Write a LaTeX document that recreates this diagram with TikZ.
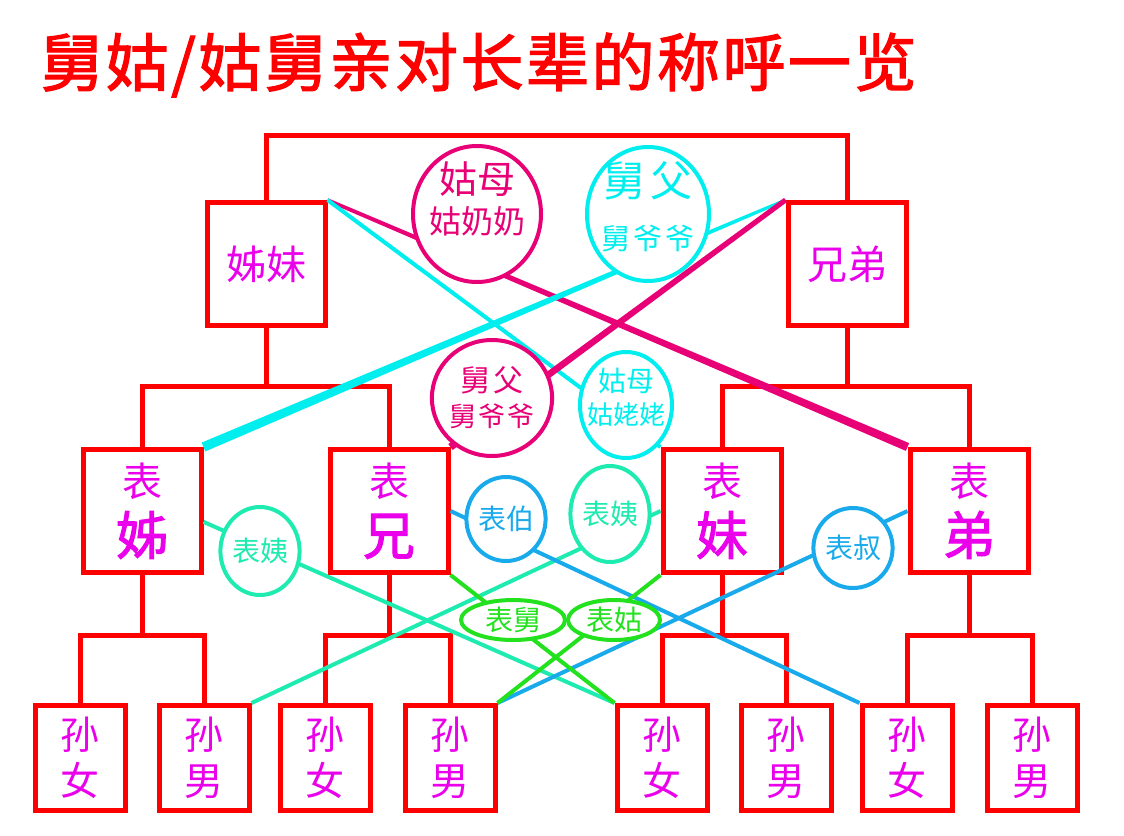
\documentclass[tikz,border=0pt]{standalone}
\usepackage{fontspec}
\usetikzlibrary{shapes.geometric,calc}
\newfontfamily\cjk{Noto Sans CJK SC}
\newfontfamily\cjkbold[FakeBold=2]{Noto Sans CJK SC}
\newfontfamily\titlefont[FakeBold=2,LetterSpace=4]{Noto Sans CJK SC}
\definecolor{boxred}{RGB}{255,0,0}
\definecolor{kinmag}{RGB}{235,0,235}
\definecolor{gupink}{RGB}{232,0,118}
\definecolor{jiucyan}{RGB}{0,238,238}
\definecolor{yiteal}{RGB}{30,235,175}
\definecolor{boblue}{RGB}{25,170,235}
\definecolor{jiugreen}{RGB}{35,225,30}
\begin{document}
\begin{tikzpicture}[x=1pt, y=-1pt,
    kin/.style={rectangle, draw=boxred, line width=5pt, fill=white, minimum width=118pt, minimum height=123pt, inner sep=0pt, text=kinmag, align=center},
    grand/.style={kin, minimum width=90pt, minimum height=105pt, font=\cjk\fontsize{39}{46}\selectfont},
    bracket/.style={draw=boxred, line width=5pt},
    tag/.style={ellipse, draw=#1, text=#1, fill=white, line width=4pt, inner sep=0pt, align=center, font=\cjk\fontsize{28}{32}\selectfont},
    link/.style={draw=#1, line width=4pt}
    ]
    \useasboundingbox (0,0) rectangle (1124,835);
    \node [anchor=west, inner sep=0pt, text=boxred, font=\titlefont\fontsize{63}{63}\selectfont] (title) at (40,65) {舅姑/姑舅亲对长辈的称呼一览};

    \node [kin, font=\cjk\fontsize{40}{44}\selectfont] (zimei) at (266,264) {姊妹};
    \node [kin, font=\cjk\fontsize{40}{44}\selectfont] (xiongdi) at (847,264) {兄弟};

    \node [kin, font=\cjk\fontsize{40}{58}\selectfont] (biaozi) at (142,511) {表\\{\cjkbold\fontsize{52}{58}\selectfont 姊}};
    \node [kin, font=\cjk\fontsize{40}{58}\selectfont] (biaoxiong) at (389,511) {表\\{\cjkbold\fontsize{52}{58}\selectfont 兄}};
    \node [kin, font=\cjk\fontsize{40}{58}\selectfont] (biaomei) at (722,511) {表\\{\cjkbold\fontsize{52}{58}\selectfont 妹}};
    \node [kin, font=\cjk\fontsize{40}{58}\selectfont] (biaodi) at (969,511) {表\\{\cjkbold\fontsize{52}{58}\selectfont 弟}};

    \node [grand] (k1) at (80,758) {孙\\女};
    \node [grand] (k2) at (204,758) {孙\\男};
    \node [grand] (k3) at (325,758) {孙\\女};
    \node [grand] (k4) at (450,758) {孙\\男};
    \node [grand] (k5) at (662,758) {孙\\女};
    \node [grand] (k6) at (786,758) {孙\\男};
    \node [grand] (k7) at (907,758) {孙\\女};
    \node [grand] (k8) at (1032,758) {孙\\男};

    \coordinate (top) at (556,135);
    \coordinate (zm) at (266,386);
    \coordinate (xd) at (847,386);
    \coordinate (bz) at (142,635);
    \coordinate (bx) at (389,635);
    \coordinate (bm) at (722,635);
    \coordinate (bd) at (969,635);

    \draw [bracket] (zimei.north) |- (top) -| (xiongdi.north);
    \draw [bracket] (zimei.south) -- (zm);
    \draw [bracket] (biaozi.north) |- (zm) -| (biaoxiong.north);
    \draw [bracket] (xiongdi.south) -- (xd);
    \draw [bracket] (biaomei.north) |- (xd) -| (biaodi.north);
    \draw [bracket] (biaozi.south) -- (bz);
    \draw [bracket] (k1.north) |- (bz) -| (k2.north);
    \draw [bracket] (biaoxiong.south) -- (bx);
    \draw [bracket] (k3.north) |- (bx) -| (k4.north);
    \draw [bracket] (biaomei.south) -- (bm);
    \draw [bracket] (k5.north) |- (bm) -| (k6.north);
    \draw [bracket] (biaodi.south) -- (bd);
    \draw [bracket] (k7.north) |- (bd) -| (k8.north);

    % tapered links: thin at the first end, thick at the second
    \fill [gupink] ($(zimei.north east)!1.8pt!90:(biaodi.north west)$) -- ($(biaodi.north west)!4.2pt!-90:(zimei.north east)$)
        -- ($(biaodi.north west)!4.2pt!90:(zimei.north east)$) -- ($(zimei.north east)!1.8pt!-90:(biaodi.north west)$) -- cycle;
    \draw [link=jiucyan] (zimei.north east) -- (biaomei.north west);
    \fill [jiucyan] ($(xiongdi.north west)!1.5pt!90:(biaozi.north east)$) -- ($(biaozi.north east)!4.8pt!-90:(xiongdi.north west)$)
        -- ($(biaozi.north east)!4.8pt!90:(xiongdi.north west)$) -- ($(xiongdi.north west)!1.5pt!-90:(biaozi.north east)$) -- cycle;
    \fill [gupink] ($(xiongdi.north west)!2.5pt!90:(biaoxiong.north east)$) -- ($(biaoxiong.north east)!3.7pt!-90:(xiongdi.north west)$)
        -- ($(biaoxiong.north east)!3.7pt!90:(xiongdi.north west)$) -- ($(xiongdi.north west)!2.5pt!-90:(biaoxiong.north east)$) -- cycle;

    \draw [link=yiteal] (biaozi.-10) -- (k5.north west);
    \draw [link=yiteal] (biaomei.west) -- (k2.north east);
    \draw [link=boblue] (biaoxiong.east) -- (k7.north west);
    \draw [link=boblue] (biaodi.west) -- (k4.north east);
    \draw [link=jiugreen] (biaoxiong.south east) -- (k5.north west);
    \draw [link=jiugreen] (biaomei.south west) -- (k4.north east);

    \node [tag=gupink, minimum width=128pt, minimum height=136pt,
        label={[text=gupink, align=center, font=\cjk\fontsize{38}{40}\selectfont, yshift=15pt]center:姑母\\{\fontsize{32}{34}\selectfont 姑奶奶}}] (gumu) at (477,214) {};
    \node [tag=jiucyan, minimum width=122pt, minimum height=134pt,
        label={[text=jiucyan, align=center, font=\cjk\fontsize{42}{53}\selectfont, yshift=7pt]center:舅\hspace{6pt}父\\{\fontsize{29}{31}\selectfont 舅\hspace{3pt}爷\hspace{3pt}爷}}] (jiufu) at (648,214) {};
    \node [tag=gupink, minimum width=110pt, minimum height=116pt, font=\cjk\fontsize{30}{35}\selectfont] (jiufu2) at (492,398) {舅\hspace{4pt}父\\{\fontsize{27}{29}\selectfont 舅\hspace{2pt}爷\hspace{2pt}爷}};
    \node [tag=jiucyan, minimum width=92pt, minimum height=106pt,
        label={[text=jiucyan, align=center, font=\cjk\fontsize{28}{33}\selectfont, yshift=8pt]center:姑母\\{\fontsize{26}{28}\selectfont 姑姥姥}}] (gumu2) at (626,405) {};
    \node [tag=boblue, minimum width=70pt, minimum height=84pt] (biaobo) at (506,519) {表伯};
    \node [tag=yiteal, minimum width=74pt, minimum height=88pt] (biaoyi) at (260,551) {表姨};
    \node [tag=yiteal, minimum width=72pt, minimum height=96pt] (biaoyi2) at (610,514) {表姨};
    \node [tag=boblue, minimum width=66pt, minimum height=80pt] (biaoshu) at (853,548) {表叔};
    \node [tag=jiugreen, minimum width=104pt, minimum height=40pt] (biaojiu) at (513,620) {表舅};
    \node [tag=jiugreen, minimum width=92pt, minimum height=40pt] (biaogu) at (614,620) {表姑};
\end{tikzpicture}
\end{document}
